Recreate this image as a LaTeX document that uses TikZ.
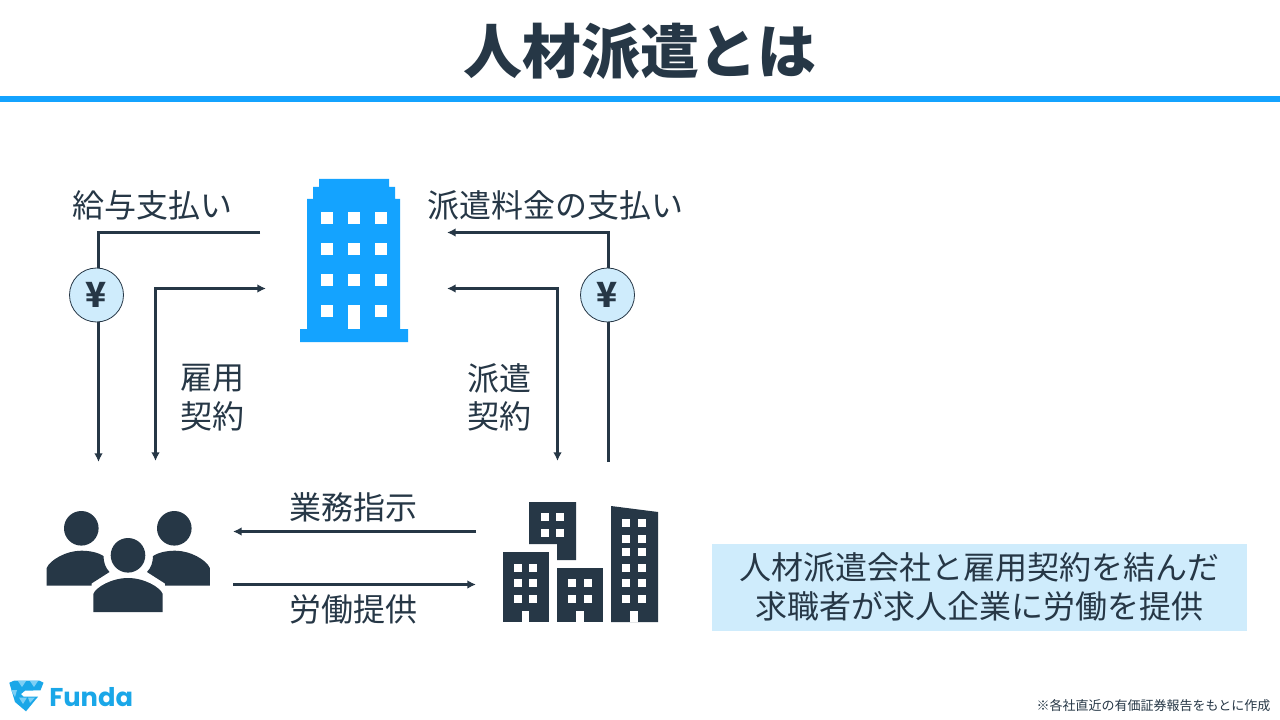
\documentclass[tikz,border=0pt]{standalone}
\usepackage{fontspec}
\setmainfont{Noto Sans CJK JP}
\newfontfamily\logofont{Poppins}
\usetikzlibrary{arrows.meta}
\definecolor{ink}{HTML}{263746}
\definecolor{sky}{HTML}{14A3FF}
\definecolor{pale}{HTML}{CFECFC}
\definecolor{logob}{HTML}{1AA7E8}
\definecolor{logolt}{HTML}{7CCFF5}
\tikzset{
  x=0.75pt,y=-0.75pt,
  lab/.style={inner sep=0pt,text=ink,font=\fontsize{24pt}{28pt}\selectfont,align=left},
  conn/.style={draw=ink,line width=2.25pt,line join=miter,-{Latex[length=6.5pt,width=6.5pt]}},
  connb/.style={draw=ink,line width=2.25pt,line join=miter,{Latex[length=6.5pt,width=6.5pt]}-{Latex[length=6.5pt,width=6.5pt]}},
  yen/.style={circle,draw=ink,line width=0.6pt,fill=pale,minimum size=40.5pt,inner sep=0pt,text=ink,font=\fontsize{26pt}{28pt}\selectfont\bfseries},
}
\begin{document}
\begin{tikzpicture}
\useasboundingbox (0,0) rectangle (1280,720);
\fill[white] (0,0) rectangle (1280,720);
% title
\node[inner sep=0pt,text=ink,font=\fontsize{44.2pt}{50pt}\selectfont\bfseries] (title) at (640,51) {人材派遣とは};
\fill[sky] (0,96) rectangle (1280,102);
% anchors
\coordinate (hqLpay) at (260,232.5);
\coordinate (hqLcon) at (266,288.5);
\coordinate (hqRpay) at (447,232.5);
\coordinate (hqRcon) at (447,288.5);
\coordinate (pplA) at (98.5,462);
\coordinate (pplB) at (155.5,461);
\coordinate (cityA) at (557.5,461);
\coordinate (cityB) at (608,462);
\coordinate (cityT) at (476,531.5);
\coordinate (pplT) at (233,531.5);
\coordinate (pplU) at (233,584.5);
\coordinate (cityU) at (476,584.5);
% connectors
\draw[conn] (hqLpay) -| (pplA);
\draw[connb] (hqLcon) -| (pplB);
\draw[conn] (cityB) |- (hqRpay);
\draw[connb] (hqRcon) -| (cityA);
\draw[conn] (cityT) -- (pplT);
\draw[conn] (pplU) -- (cityU);
% yen badges
\node[yen] (yenL) at (96.5,295) {¥};
\node[yen] (yenR) at (607.5,295) {¥};
% labels
\node[lab,anchor=center] (payL) at (152.5,205) {給与支払い};
\node[lab,anchor=center] (payR) at (555,205) {派遣料金の支払い};
\node[lab,anchor=center] (emp1) at (212.5,378) {雇用};
\node[lab,anchor=center] (emp2) at (212.5,416) {契約};
\node[lab,anchor=center] (dis1) at (499.5,378) {派遣};
\node[lab,anchor=center] (dis2) at (499.5,416) {契約};
\node[lab,anchor=center] (ins) at (353,507) {業務指示};
\node[lab,anchor=center] (lab) at (353,609) {労働提供};
% head-office building
\fill[sky] (319,179) -- (389,179) -- (389,187) -- (395,187) -- (395,199) -- (400,199) -- (400,329) -- (408,329) -- (408,342) -- (300,342) -- (300,329) -- (307,329) -- (307,199) -- (313,199) -- (313,187) -- (319,187) -- cycle;
\foreach \y in {212,243,274,305} \foreach \x in {321,348,375} {
  \ifnum\x=348 \ifnum\y=305 \else \fill[white] (\x,\y) rectangle ++(12,12);\fi
  \else \fill[white] (\x,\y) rectangle ++(12,12);\fi}
\fill[white] (348,305) rectangle (360,329);
% city
\fill[ink] (529,502) -- (576,502) -- (576,560) -- (557,560) -- (557,544) -- (529,544) -- cycle;
\foreach \y in {513,529} \foreach \x in {541,556} \fill[white] (\x,\y) rectangle ++(8,8);
\fill[ink] (503,552) rectangle (549,622);
\foreach \y in {564,579,595} \foreach \x in {514,529} \fill[white] (\x,\y) rectangle ++(8,8);
\fill[white] (522,611) rectangle (529,622);
\fill[ink] (557,568) rectangle (603,622);
\foreach \y in {579,595} \foreach \x in {568,584} \fill[white] (\x,\y) rectangle ++(8,8);
\fill[white] (576,611) rectangle (584,622);
\fill[ink] (611,506) -- (658,512) -- (658,622) -- (611,622) -- cycle;
\foreach \y in {519,535,548,564,579,595} \foreach \x in {622,638} \fill[white] (\x,\y) rectangle ++(8,8);
\fill[white] (630,611) rectangle (638,622);
% people
\fill[ink] (81.3,528.3) circle[radius=17.3];
\fill[ink] (174.3,528.3) circle[radius=17.3];
\fill[ink] (128,555.3) circle[radius=17.3];
\fill[ink] (93.3,612) -- (93.3,594) .. controls (96,587) and (112,578) .. (128,578) .. controls (144,578) and (160,587) .. (162.7,594) -- (162.7,612) -- cycle;
\fill[ink] (46.7,585.7) -- (46.7,568) .. controls (50,560) and (66,550.7) .. (81.3,550.7) .. controls (90,550.7) and (98,552.5) .. (103.5,556) .. controls (103.5,562) and (105.5,568) .. (109.5,572) -- (91.5,583.5) -- (91.5,585.7) -- cycle;
\fill[ink] (209.8,585.7) -- (209.8,568) .. controls (206.5,560) and (190.5,550.7) .. (175.2,550.7) .. controls (166.5,550.7) and (158.5,552.5) .. (153,556) .. controls (153,562) and (151,568) .. (147,572) -- (165,583.5) -- (165,585.7) -- cycle;
% note box
\node[fill=pale,minimum width=401.25pt,minimum height=65.25pt,inner sep=0pt] (box) at (979.5,587.5) {};
\node[lab,anchor=center] (boxa) at (979.5,567) {人材派遣会社と雇用契約を結んだ};
\node[lab,anchor=center] (boxb) at (979.5,606) {求職者が求人企業に労働を提供};
% logo
\fill[logob] (9.3,682.7) -- (14,680.7) -- (39.5,680.7) -- (43.5,682.7) -- (40.5,690.3) -- (25,690.7) -- (21,694) -- (23.5,696.7) -- (38,696.7) -- (26,711.3) -- (15,702) -- cycle;
\fill[logolt] (18,681) -- (26,681) -- (22,687) -- cycle (30,681) -- (38,681) -- (34,687) -- cycle (11,690) -- (17,690) -- (15,697) -- cycle (19,697.5) -- (27,697.5) -- (23,704) -- cycle (28,697.5) -- (35,697.5) -- (30,703) -- cycle;
\node[inner sep=0pt,anchor=west,text=logob,font=\logofont\fontsize{19.3pt}{22pt}\selectfont\bfseries] (logo) at (49,697) {Funda};
% footnote
\node[inner sep=0pt,anchor=east,text=ink,font=\fontsize{9.75pt}{11pt}\selectfont] (foot) at (1270.5,705.5) {※各社直近の有価証券報告をもとに作成};
\end{tikzpicture}
\end{document}
